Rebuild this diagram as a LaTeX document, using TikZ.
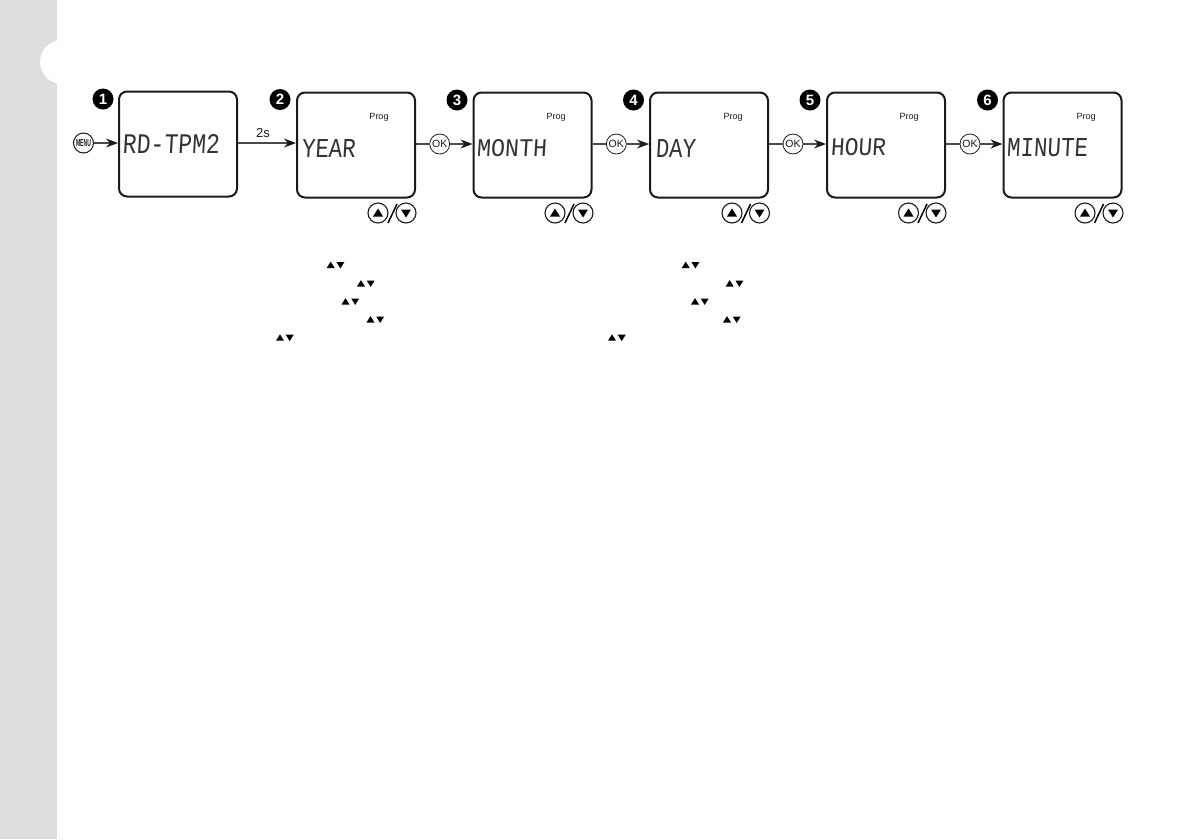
\documentclass[tikz,border=0pt]{standalone}
\usepackage{fontspec}
\usepackage{graphicx}
\usetikzlibrary{arrows.meta}
\setmainfont{Liberation Sans}
\newfontfamily\lcdfont[FakeSlant=0.07]{Liberation Mono}
\definecolor{stripgray}{HTML}{DCDDDF}
\definecolor{inkblack}{HTML}{1A1A1A}
\definecolor{lcdink}{HTML}{333333}
\definecolor{linegray}{HTML}{4A4A4A}
\newcommand{\lcdtext}[3]{\resizebox{#1pt}{#2pt}{\lcdfont #3}}
\tikzset{
  lcdbox/.style={draw=inkblack,line width=2pt,rounded corners=8pt,fill=white,minimum width=118pt,minimum height=105pt,inner sep=0pt,anchor=north west},
  lcdlabel/.style={inner sep=0pt,text=lcdink,anchor=center},
  badge/.style={circle,fill=black,text=white,minimum size=21pt,inner sep=0pt,font=\fontsize{15}{15}\selectfont\bfseries},
  okbtn/.style={circle,draw=inkblack,line width=0.8pt,fill=white,minimum size=20pt,inner sep=0pt,font=\fontsize{10.5}{11}\selectfont,text=inkblack},
  arrowbtn/.style={circle,draw=inkblack,line width=1.1pt,fill=white,minimum size=20pt,inner sep=0pt},
  proglabel/.style={inner sep=0pt,font=\fontsize{9}{9}\selectfont,text=inkblack},
  conn/.style={draw=linegray,line width=1.1pt},
  arr/.style={conn,-{Stealth[length=12pt,width=9pt,color=inkblack]}},
}
\newcommand{\upbtn}[3]{%
  \node[arrowbtn] (#1) at (#2,#3) {};
  \fill[black] (#2-5,#3+3.5) -- (#2+5,#3+3.5) -- (#2,#3-4.5) -- cycle;}
\newcommand{\downbtn}[3]{%
  \node[arrowbtn] (#1) at (#2,#3) {};
  \fill[black] (#2-5,#3-3.5) -- (#2+5,#3-3.5) -- (#2,#3+4.5) -- cycle;}
\newcommand{\updown}[2]{%
  \fill[black] (#1-4,#2+3) -- (#1+4,#2+3) -- (#1,#2-3.4) -- cycle;
  \fill[black] (#1+5.7,#2-3) -- (#1+13.7,#2-3) -- (#1+9.7,#2+3.4) -- cycle;}
\begin{document}
\begin{tikzpicture}[x=1pt,y=-1pt]
\useasboundingbox (0,0) rectangle (1191,839);
\fill[white] (0,0) rectangle (1191,839);
\fill[stripgray] (0,0) rectangle (57,839);
\fill[white] (62,62) circle (22);

% boxes
\node[lcdbox] (b1) at (118,90.5) {};
\node[lcdbox] (b2) at (296,91.5) {};
\node[lcdbox] (b3) at (472.5,91.5) {};
\node[lcdbox] (b4) at (649,91.5) {};
\node[lcdbox] (b5) at (826,91.5) {};
\node[lcdbox] (b6) at (1002.5,91.5) {};

% badges
\node[badge] (n1) at (103,99) {1};
\node[badge] (n2) at (280,99.5) {2};
\node[badge] (n3) at (457,100) {3};
\node[badge] (n4) at (633.5,100) {4};
\node[badge] (n5) at (810,100) {5};
\node[badge] (n6) at (987.5,100) {6};

% LCD texts
\node[lcdlabel] (t1) at (171,144) {\lcdtext{97}{19}{RD-TPM2}};
\node[lcdlabel] (t2) at (328.5,148) {\lcdtext{54}{18}{YEAR}};
\node[lcdlabel] (t3) at (511.5,148) {\lcdtext{70}{17}{MONTH}};
\node[lcdlabel] (t4) at (675.5,148) {\lcdtext{40}{18}{DAY}};
\node[lcdlabel] (t5) at (858,147.5) {\lcdtext{55}{17}{HOUR}};
\node[lcdlabel] (t6) at (1047,148) {\lcdtext{81}{18}{MINUTE}};

% Prog
\node[proglabel] (p2) at (379,117) {Prog};
\node[proglabel] (p3) at (556,117) {Prog};
\node[proglabel] (p4) at (733,117) {Prog};
\node[proglabel] (p5) at (909,117) {Prog};
\node[proglabel] (p6) at (1086,117) {Prog};

% input buttons
\node[okbtn,line width=1pt] (menu) at (83.5,143) {\resizebox{15pt}{7pt}{\bfseries MENU}};
\node[okbtn] (ok1) at (439.7,144) {OK};
\node[okbtn] (ok2) at (616.3,144) {OK};
\node[okbtn] (ok3) at (793,144) {OK};
\node[okbtn] (ok4) at (970,144) {OK};

% connectors
\coordinate (in1) at (b1.west |- menu);
\coordinate (out1) at (b1.east |- menu);
\coordinate (in2) at (b2.west |- menu);
\draw[arr] (menu) -- (in1);
\draw[arr] (out1) -- (in2);
\node[inner sep=0pt,font=\fontsize{13}{13}\selectfont,text=inkblack] (lbl) at (263,133) {2s};
\draw[conn] (b2.east |- ok1) -- (ok1);
\draw[conn] (b3.east |- ok2) -- (ok2);
\draw[conn] (b4.east |- ok3) -- (ok3);
\draw[conn] (b5.east |- ok4) -- (ok4);
\draw[arr] (ok1) -- (b3.west |- ok1);
\draw[arr] (ok2) -- (b4.west |- ok2);
\draw[arr] (ok3) -- (b5.west |- ok3);
\draw[arr] (ok4) -- (b6.west |- ok4);

% up/down buttons
\upbtn{u2}{378}{213}\downbtn{d2}{406}{213}
\upbtn{u3}{555}{213}\downbtn{d3}{583}{213}
\upbtn{u4}{732}{213}\downbtn{d4}{759.5}{213}
\upbtn{u5}{908.5}{213}\downbtn{d5}{936}{213}
\upbtn{u6}{1085}{213}\downbtn{d6}{1113}{213}
\draw[black,line width=1.5pt] (388,223) -- (397,204);
\draw[black,line width=1.5pt] (565,223) -- (574,204);
\draw[black,line width=1.5pt] (741.5,223) -- (750.5,204);
\draw[black,line width=1.5pt] (918,223) -- (927,204);
\draw[black,line width=1.5pt] (1094.5,223) -- (1103.5,204);

% stray arrow glyphs
\updown{330.7}{265}
\updown{361}{283.5}
\updown{345.5}{301.5}
\updown{370.5}{319.5}
\updown{280}{337.7}
\updown{685.7}{265}
\updown{729.7}{283.5}
\updown{695}{301.5}
\updown{727}{319.5}
\updown{612}{337.7}
\end{tikzpicture}
\end{document}
